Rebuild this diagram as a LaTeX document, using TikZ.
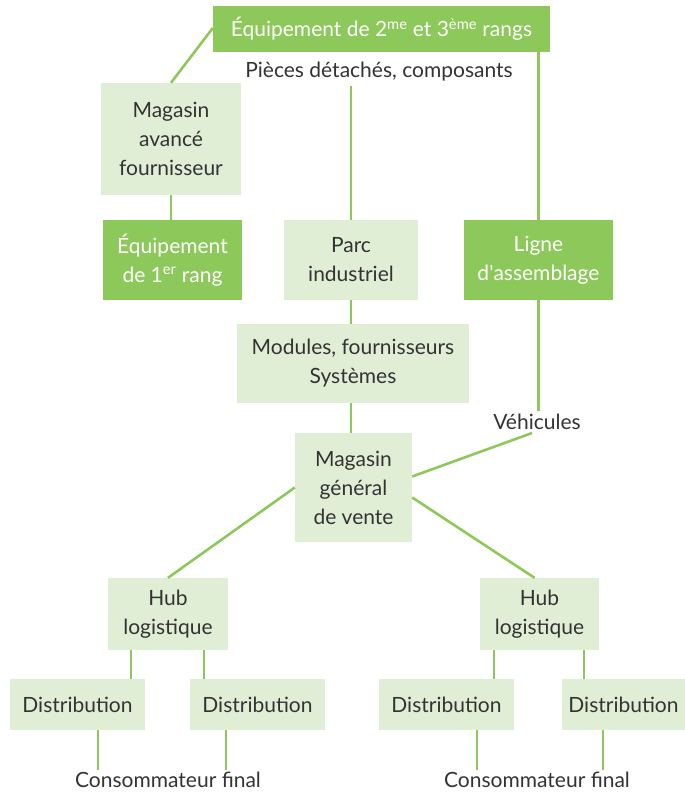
\documentclass[tikz,border=0pt]{standalone}
\usepackage{fontspec}
\setmainfont{Lato}
\newfontfamily\plainlato[Ligatures=ResetAll]{Lato}
\definecolor{dkgreen}{HTML}{8DC85B}
\definecolor{ltgreen}{HTML}{E1EED6}
\definecolor{txtgray}{HTML}{333333}
\begin{document}
\begin{tikzpicture}[x=1pt,y=-1pt,
  every node/.style={font=\fontsize{21}{29}\selectfont, align=center, inner sep=0pt},
  lbox/.style={fill=ltgreen, text=txtgray, minimum width=#1},
  dbox/.style={fill=dkgreen, text=white, minimum width=#1},
  plain/.style={text=txtgray},
  conn/.style={draw=dkgreen, line width=2.6pt}]
\useasboundingbox (0,0) rectangle (685,793);
% nodes
\node[dbox=337, minimum height=46] (top) at (381.5,29) {Équipement de 2\textsuperscript{me} et 3\textsuperscript{ème} rangs};
\node[plain] (pieces) at (379,72) {Pièces détachés, composants};
\node[lbox=140, minimum height=112] (mav) at (171,139) {Magasin\\avancé\\fournisseur};
\node[dbox=139, minimum height=80] (eq1) at (172.5,260) {Équipement\\de 1\textsuperscript{er} rang};
\node[lbox=134, minimum height=80] (parc) at (351,260) {Parc\\industriel};
\node[dbox=149, minimum height=80] (ligne) at (538.5,260) {Ligne\\d{\plainlato\char"0027}assemblage};
\node[lbox=232, minimum height=79] (modules) at (353,363.5) {Modules, fournisseurs\\Systèmes};
\node[lbox=117, minimum height=109] (mgv) at (353.5,487.5) {Magasin\\général\\de vente};
\node[plain] (veh) at (537,422) {Véhicules};
\node[lbox=120, minimum height=72] (hub1) at (168,614) {Hub\\logistique};
\node[lbox=119, minimum height=72] (hub2) at (539.5,614) {Hub\\logistique};
\node[lbox=135, minimum height=51] (d1) at (77.5,704.5) {Distribution};
\node[lbox=135, minimum height=51] (d2) at (257.5,704.5) {Distribution};
\node[lbox=135, minimum height=51] (d3) at (446.5,704.5) {Distribution};
\node[lbox=123, minimum height=51] (d4) at (623.5,704.5) {Distribution};
\node[plain] (c1) at (168,780) {Consommateur final};
\node[plain] (c2) at (537,780) {Consommateur final};
% connectors
\draw[conn] ([yshift=1]top.west) -- (mav.north);
\draw[conn] (ligne.north |- top.south) -- (ligne.north);
\draw[conn] ([yshift=-4]pieces.south -| parc.north) -- (parc.north);
\draw[conn] (mav.south) -- (mav.south |- eq1.north);
\draw[conn] (parc.south) -- (parc.south |- modules.north);
\draw[conn] (modules.south -| parc.south) -- (mgv.north -| parc.south);
\draw[conn] (ligne.south) -- ([yshift=3]ligne.south |- veh.north);
\draw[conn] ([xshift=-5,yshift=-3]veh.south) -- ([yshift=11]mgv.east);
\draw[conn] (mgv.west) -- (hub1.north);
\draw[conn] ([yshift=-10]mgv.east) -- ([xshift=-5]hub2.north);
\draw[conn] ([xshift=131]hub1.south -| 0,0) -- ([xshift=131]d1.north -| 0,0);
\draw[conn] ([xshift=204]hub1.south -| 0,0) -- ([xshift=204]d2.north -| 0,0);
\draw[conn] ([xshift=494]hub2.south -| 0,0) -- ([xshift=494]d3.north -| 0,0);
\draw[conn] ([xshift=584]hub2.south -| 0,0) -- ([xshift=584]d4.north -| 0,0);
\draw[conn] ([xshift=98]d1.south -| 0,0) -- ([xshift=98,yshift=2]c1.north -| 0,0);
\draw[conn] ([xshift=226]d2.south -| 0,0) -- ([xshift=226,yshift=2]c1.north -| 0,0);
\draw[conn] ([xshift=477]d3.south -| 0,0) -- ([xshift=477,yshift=2]c2.north -| 0,0);
\draw[conn] ([xshift=603]d4.south -| 0,0) -- ([xshift=603,yshift=2]c2.north -| 0,0);
\end{tikzpicture}
\end{document}
